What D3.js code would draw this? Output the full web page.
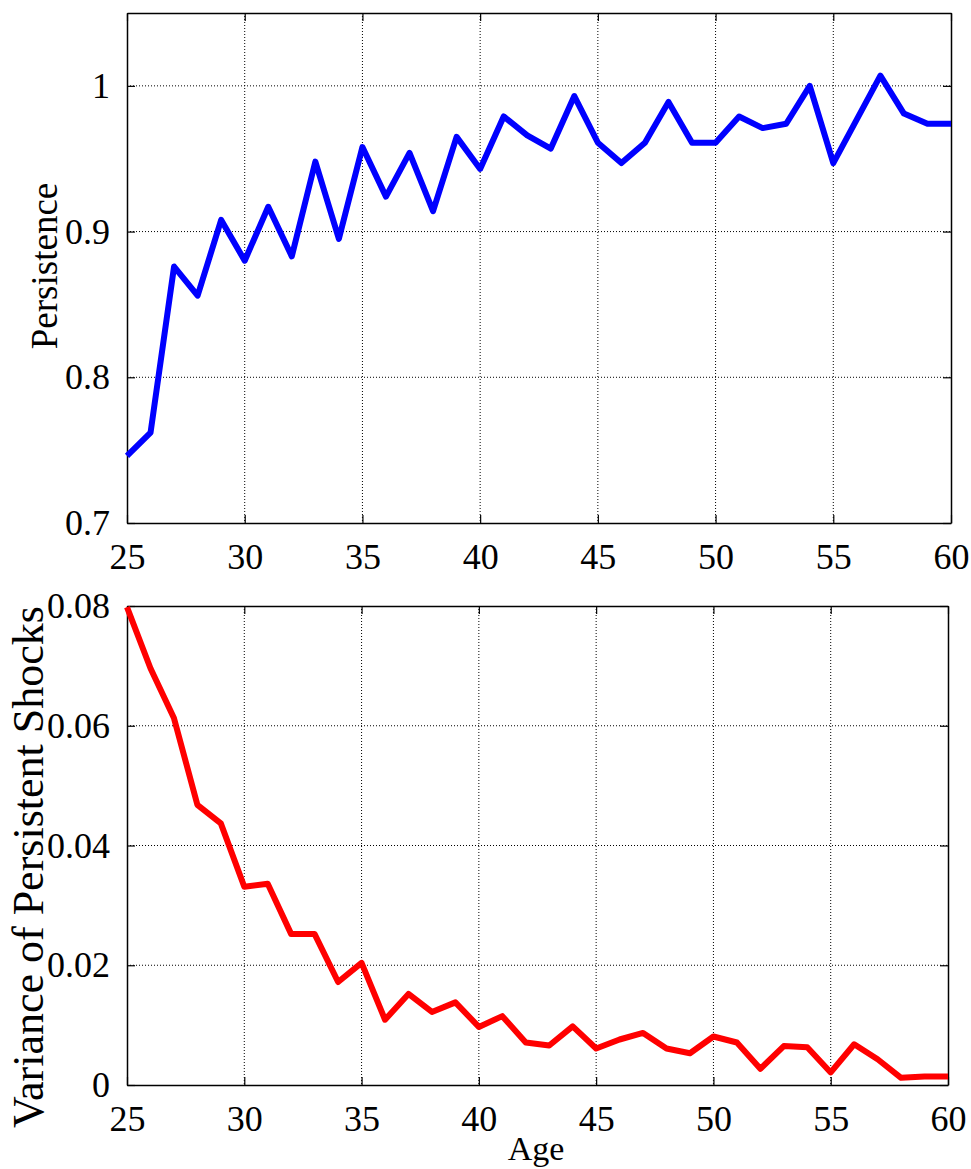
<!DOCTYPE html>
<html>
<head>
<meta charset="utf-8">
<script src="https://cdn.jsdelivr.net/npm/d3@7"></script>
<style>
  body { margin: 0; background: #fff; }
  svg text { font-family: "Liberation Serif", "Times New Roman", serif !important; fill: #000; }
  .tick text { font-size: 36px !important; }
  .xlab { font-size: 34px; }
</style>
</head>
<body>
<svg id="chart" width="971" height="1169"></svg>
<script>
// ages 25..60
const ages = d3.range(25, 61);

const persistence = [
  0.746, 0.762, 0.876, 0.856, 0.908, 0.880, 0.917, 0.883, 0.948, 0.895,
  0.958, 0.924, 0.954, 0.914, 0.965, 0.943, 0.979, 0.966, 0.957, 0.993,
  0.961, 0.947, 0.961, 0.989, 0.961, 0.961, 0.979, 0.971, 0.974, 1.000,
  0.947, 0.977, 1.007, 0.981, 0.974, 0.974
];

const shockVar = [
  0.0798, 0.0696, 0.0613, 0.0468, 0.0437, 0.0331, 0.0336, 0.0252, 0.0252, 0.0172,
  0.0204, 0.0109, 0.0152, 0.0122, 0.0138, 0.0097, 0.0115, 0.0071, 0.0066, 0.0098,
  0.0061, 0.0076, 0.0087, 0.0061, 0.0053, 0.0081, 0.0071, 0.0027, 0.0065, 0.0063,
  0.0021, 0.0068, 0.0043, 0.0012, 0.0014, 0.0014
];

const xTicks = [25, 30, 35, 40, 45, 50, 55, 60];
const topTicks = [0.7, 0.8, 0.9, 1];
const bottomTicks = [0, 0.02, 0.04, 0.06, 0.08];

const svg = d3.select('#chart');

function panel(opts) {
  let x = d3.scaleLinear().domain([25, 60]).range([opts.left, opts.right]);
  let y = d3.scaleLinear().domain(opts.yDomain).range([opts.bottom, opts.top]);
  let g = svg.append('g');

  // grid
  g.selectAll('.vgrid')
    .data(xTicks.slice(1, -1))
    .enter().append('line')
    .attr('x1', d => x(d)).attr('x2', d => x(d))
    .attr('y1', opts.top).attr('y2', opts.bottom)
    .attr('stroke', '#000').attr('stroke-width', 1)
    .attr('stroke-dasharray', '1,2');
  g.selectAll('.hgrid')
    .data(opts.yTicks.filter(d => y(d) > opts.top + 1 && y(d) < opts.bottom - 1))
    .enter().append('line')
    .attr('x1', opts.left).attr('x2', opts.right)
    .attr('y1', d => y(d)).attr('y2', d => y(d))
    .attr('stroke', '#000').attr('stroke-width', 1)
    .attr('stroke-dasharray', '1,2');

  // axes with inward ticks
  let fmt = opts.fmt;
  g.append('g').attr('transform', 'translate(0,' + opts.bottom + ')')
    .call(d3.axisBottom(x).tickValues(xTicks).tickSizeInner(-8).tickSizeOuter(0).tickPadding(20).tickFormat(d3.format('d')));
  g.append('g').attr('transform', 'translate(0,' + opts.top + ')')
    .call(d3.axisTop(x).tickValues(xTicks).tickSizeInner(-8).tickSizeOuter(0).tickFormat(''));
  g.append('g').attr('transform', 'translate(' + opts.left + ',0)')
    .call(d3.axisLeft(y).tickValues(opts.yTicks).tickSizeInner(-8).tickSizeOuter(0).tickPadding(17).tickFormat(fmt));
  g.append('g').attr('transform', 'translate(' + opts.right + ',0)')
    .call(d3.axisRight(y).tickValues(opts.yTicks).tickSizeInner(-8).tickSizeOuter(0).tickFormat(''));

  g.selectAll('g').attr('font-family', null).attr('font-size', null);
  g.selectAll('.domain').attr('stroke', '#000').attr('stroke-width', 1.5);
  g.selectAll('.tick line').attr('stroke', '#000').attr('stroke-width', 1.2);

  // data line
  let line = d3.line().x((d, i) => x(ages[i])).y(d => y(d));
  g.append('path')
    .datum(opts.values)
    .attr('d', line)
    .attr('fill', 'none')
    .attr('stroke', opts.color)
    .attr('stroke-width', 6)
    .attr('stroke-linejoin', 'round');

  // y label
  g.append('text')
    .attr('transform', 'translate(' + opts.labelX + ',' + opts.labelY + ') rotate(-90)')
    .attr('text-anchor', 'middle')
    .style('font-size', opts.labelSize + 'px')
    .text(opts.label);
  return {x: x, y: y};
}

panel({
  left: 127, right: 951, top: 13, bottom: 523,
  yDomain: [0.7, 1.05], yTicks: topTicks,
  fmt: d => d3.format('')(d),
  values: persistence, color: '#0000ff',
  label: 'Persistence', labelX: 57, labelY: 266, labelSize: 37
});

panel({
  left: 127, right: 948, top: 606, bottom: 1085,
  yDomain: [0, 0.08], yTicks: bottomTicks,
  fmt: d => d === 0 ? '0' : d3.format('.2f')(d),
  values: shockVar, color: '#ff0000',
  label: 'Variance of Persistent Shocks', labelX: 43, labelY: 867, labelSize: 44
});

svg.append('text')
  .attr('class', 'xlab')
  .attr('x', 536).attr('y', 1160)
  .attr('text-anchor', 'middle')
  .text('Age');
</script>
</body>
</html>
